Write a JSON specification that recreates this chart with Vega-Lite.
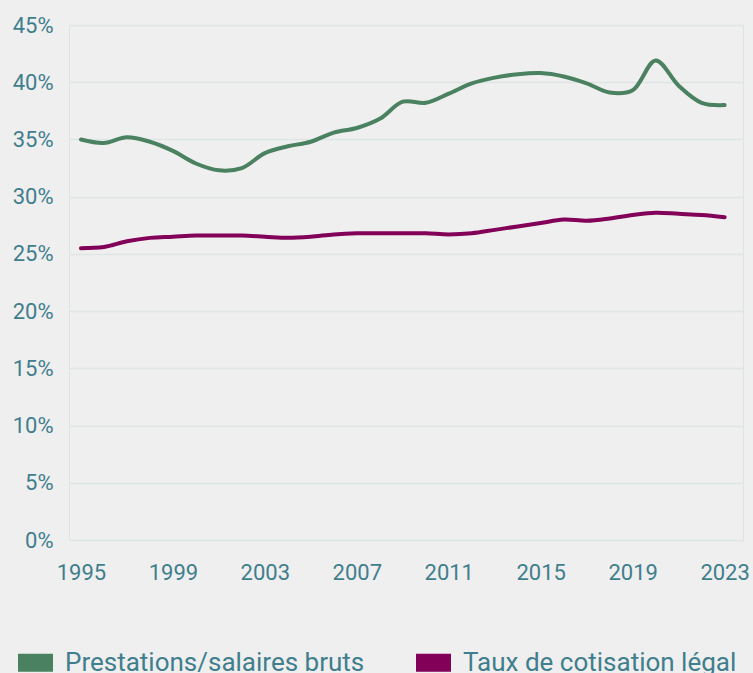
{
  "$schema": "https://vega.github.io/schema/vega-lite/v6.json",
  "width": 674,
  "height": 515,
  "autosize": {"type": "none"},
  "padding": {"left": 69, "top": 25, "right": 10, "bottom": 133},
  "background": "#efefef",
  "config": {
    "font": "Roboto",
    "view": {"stroke": "#dde4e4", "strokeWidth": 1},
    "axis": {"labelFont": "Roboto", "labelColor": "#3f7e8d", "labelFontSize": 22, "domain": false, "ticks": false, "gridColor": "#dfe5e5", "gridWidth": 1.3}
  },
  "data": {
    "values": [
      {"year": 1995, "series": "Prestations/salaires bruts", "v": 35.0},
      {"year": 1996, "series": "Prestations/salaires bruts", "v": 34.7},
      {"year": 1997, "series": "Prestations/salaires bruts", "v": 35.2},
      {"year": 1998, "series": "Prestations/salaires bruts", "v": 34.8},
      {"year": 1999, "series": "Prestations/salaires bruts", "v": 34.0},
      {"year": 2000, "series": "Prestations/salaires bruts", "v": 32.9},
      {"year": 2001, "series": "Prestations/salaires bruts", "v": 32.3},
      {"year": 2002, "series": "Prestations/salaires bruts", "v": 32.5},
      {"year": 2003, "series": "Prestations/salaires bruts", "v": 33.8},
      {"year": 2004, "series": "Prestations/salaires bruts", "v": 34.4},
      {"year": 2005, "series": "Prestations/salaires bruts", "v": 34.8},
      {"year": 2006, "series": "Prestations/salaires bruts", "v": 35.6},
      {"year": 2007, "series": "Prestations/salaires bruts", "v": 36.0},
      {"year": 2008, "series": "Prestations/salaires bruts", "v": 36.8},
      {"year": 2009, "series": "Prestations/salaires bruts", "v": 38.3},
      {"year": 2010, "series": "Prestations/salaires bruts", "v": 38.2},
      {"year": 2011, "series": "Prestations/salaires bruts", "v": 39.0},
      {"year": 2012, "series": "Prestations/salaires bruts", "v": 39.9},
      {"year": 2013, "series": "Prestations/salaires bruts", "v": 40.4},
      {"year": 2014, "series": "Prestations/salaires bruts", "v": 40.7},
      {"year": 2015, "series": "Prestations/salaires bruts", "v": 40.8},
      {"year": 2016, "series": "Prestations/salaires bruts", "v": 40.5},
      {"year": 2017, "series": "Prestations/salaires bruts", "v": 39.9},
      {"year": 2018, "series": "Prestations/salaires bruts", "v": 39.1},
      {"year": 2019, "series": "Prestations/salaires bruts", "v": 39.3},
      {"year": 2020, "series": "Prestations/salaires bruts", "v": 41.9},
      {"year": 2021, "series": "Prestations/salaires bruts", "v": 39.7},
      {"year": 2022, "series": "Prestations/salaires bruts", "v": 38.2},
      {"year": 2023, "series": "Prestations/salaires bruts", "v": 38.0},
      {"year": 1995, "series": "Taux de cotisation légal", "v": 25.5},
      {"year": 1996, "series": "Taux de cotisation légal", "v": 25.6},
      {"year": 1997, "series": "Taux de cotisation légal", "v": 26.1},
      {"year": 1998, "series": "Taux de cotisation légal", "v": 26.4},
      {"year": 1999, "series": "Taux de cotisation légal", "v": 26.5},
      {"year": 2000, "series": "Taux de cotisation légal", "v": 26.6},
      {"year": 2001, "series": "Taux de cotisation légal", "v": 26.6},
      {"year": 2002, "series": "Taux de cotisation légal", "v": 26.6},
      {"year": 2003, "series": "Taux de cotisation légal", "v": 26.5},
      {"year": 2004, "series": "Taux de cotisation légal", "v": 26.4},
      {"year": 2005, "series": "Taux de cotisation légal", "v": 26.5},
      {"year": 2006, "series": "Taux de cotisation légal", "v": 26.7},
      {"year": 2007, "series": "Taux de cotisation légal", "v": 26.8},
      {"year": 2008, "series": "Taux de cotisation légal", "v": 26.8},
      {"year": 2009, "series": "Taux de cotisation légal", "v": 26.8},
      {"year": 2010, "series": "Taux de cotisation légal", "v": 26.8},
      {"year": 2011, "series": "Taux de cotisation légal", "v": 26.7},
      {"year": 2012, "series": "Taux de cotisation légal", "v": 26.8},
      {"year": 2013, "series": "Taux de cotisation légal", "v": 27.1},
      {"year": 2014, "series": "Taux de cotisation légal", "v": 27.4},
      {"year": 2015, "series": "Taux de cotisation légal", "v": 27.7},
      {"year": 2016, "series": "Taux de cotisation légal", "v": 28.0},
      {"year": 2017, "series": "Taux de cotisation légal", "v": 27.9},
      {"year": 2018, "series": "Taux de cotisation légal", "v": 28.1},
      {"year": 2019, "series": "Taux de cotisation légal", "v": 28.4},
      {"year": 2020, "series": "Taux de cotisation légal", "v": 28.6},
      {"year": 2021, "series": "Taux de cotisation légal", "v": 28.5},
      {"year": 2022, "series": "Taux de cotisation légal", "v": 28.4},
      {"year": 2023, "series": "Taux de cotisation légal", "v": 28.2}
    ]
  },
  "mark": {"type": "line", "interpolate": "catmull-rom", "strokeWidth": 4, "strokeCap": "round"},
  "encoding": {
    "x": {
      "field": "year", "type": "quantitative",
      "scale": {"domain": [1994.48, 2023.8], "nice": false, "zero": false},
      "axis": {"title": null, "values": [1995, 1999, 2003, 2007, 2011, 2015, 2019, 2023], "format": "d", "grid": false, "labelPadding": 22}
    },
    "y": {
      "field": "v", "type": "quantitative",
      "scale": {"domain": [0, 45], "nice": false},
      "axis": {"title": null, "values": [0, 5, 10, 15, 20, 25, 30, 35, 40, 45], "labelExpr": "datum.value + '%'", "labelPadding": 16}
    },
    "color": {
      "field": "series", "type": "nominal",
      "scale": {"domain": ["Prestations/salaires bruts", "Taux de cotisation légal"], "range": ["#4a8160", "#820058"]},
      "legend": {
        "title": null, "orient": "none", "direction": "horizontal",
        "legendX": -60, "legendY": 611, "padding": 0,
        "symbolType": "stroke", "symbolSize": 1225, "symbolStrokeWidth": 18, "symbolOpacity": 1,
        "labelFont": "Roboto", "labelFontSize": 26, "labelColor": "#3f7e8d", "labelOffset": 3, "labelLimit": 500,
        "columnPadding": 15
      }
    }
  }
}
